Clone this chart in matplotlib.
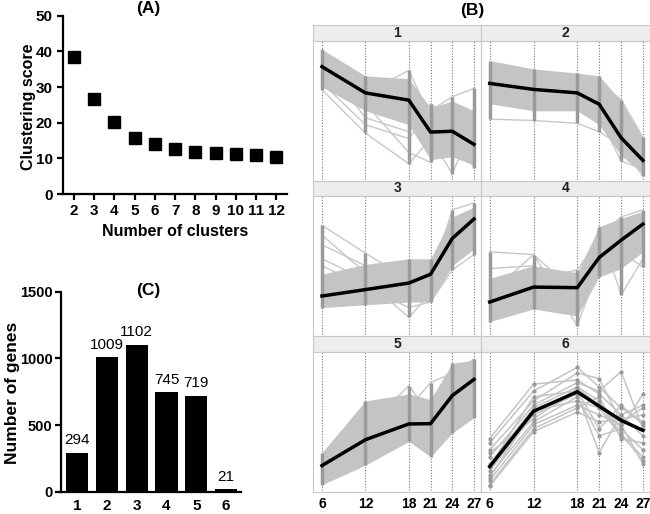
import matplotlib
matplotlib.use("Agg")
import matplotlib.pyplot as plt
import numpy as np

plt.rcParams['font.family'] = ['Liberation Sans', 'DejaVu Sans']

# (A) clustering score vs number of clusters
n_clusters = [2, 3, 4, 5, 6, 7, 8, 9, 10, 11, 12]
score = [38.5, 26.6, 20.2, 15.8, 14.1, 12.7, 11.9, 11.5, 11.1, 10.8, 10.4]

# (C) genes per cluster
cluster_ids = [1, 2, 3, 4, 5, 6]
gene_counts = [294, 1009, 1102, 745, 719, 21]

# (B) time profiles (relative expression, 0-100 within each facet)
times = [6, 12, 18, 21, 24, 27]
mean_profiles = {
    1: [81.6, 62.8, 57.6, 34.7, 35.3, 25.9],
    2: [69.6, 65.3, 62.8, 54.7, 30.7, 14.4],
    3: [28.3, 32.9, 37.6, 43.9, 69.6, 83.5],
    4: [24.0, 34.7, 34.3, 55.9, 68.3, 79.9],
    5: [18.7, 37.2, 48.5, 48.7, 68.8, 80.4],
    6: [18.0, 57.6, 71.5, 61.2, 51.1, 43.9],
}
core_upper = {
    1: [94, 75, 73, 52, 57, 50],
    2: [86, 80, 77, 75, 57, 30],
    3: [44, 51, 55, 55, 85, 92],
    4: [41, 50, 45, 78, 84, 89],
    5: [28, 65, 70, 66, 92, 94],
}
core_lower = {
    1: [67, 50, 40, 15, 17, 11],
    2: [55, 50, 50, 40, 18, 5],
    3: [20, 22, 24, 24, 50, 62],
    4: [10, 19, 14, 42, 48, 60],
    5: [5, 19, 36, 25, 42, 53],
}
# sparse outlying profiles around the dense band
outlier_lines = {
    1: [[80, 62, 79, 45, 40, 50], [70, 40, 30, 50, 60, 66], [65, 34, 12, 30, 5, 40],
        [75, 55, 20, 13, 35, 9], [85, 45, 35, 55, 45, 30]],
    2: [[75, 58, 55, 45, 14, 8], [44, 43, 41, 35, 25, 3], [80, 75, 60, 70, 58, 31]],
    3: [[79, 59, 40, 45, 80, 90], [72, 45, 30, 40, 90, 95], [55, 40, 13, 30, 60, 70],
        [50, 35, 20, 24, 47, 58], [65, 50, 35, 50, 85, 60]],
    4: [[60, 58, 30, 60, 80, 85], [48, 50, 25, 78, 29, 55], [30, 58, 7, 50, 60, 49],
        [20, 40, 47, 70, 85, 90]],
    5: [[20, 45, 76, 55, 80, 90], [15, 40, 60, 78, 85, 95], [10, 30, 50, 40, 92, 70]],
}
# cluster 6 has only 21 genes, individual lines are visible
cluster6_lines = [
    [38, 77, 80, 70, 55, 40],
    [35, 72, 89, 75, 60, 50],
    [30, 65, 85, 81, 50, 60],
    [25, 62, 78, 72, 86, 45],
    [20, 60, 75, 65, 45, 70],
    [15, 55, 70, 28, 55, 62],
    [12, 50, 68, 40, 45, 30],
    [10, 58, 65, 60, 40, 25],
    [8, 48, 62, 55, 48, 20],
    [5, 45, 60, 68, 38, 35],
    [4, 43, 57, 50, 52, 55],
    [18, 68, 72, 45, 62, 48],
    [28, 52, 74, 62, 42, 22],
]

W, H = 650, 514
fig = plt.figure(figsize=(6.5, 5.14), dpi=100)


def box(x0, y0, x1, y1):
    # pixel box (top-left origin) -> figure fraction rect
    return [x0 / W, 1 - y1 / H, (x1 - x0) / W, (y1 - y0) / H]


def style_prism(ax):
    for s in ['top', 'right']:
        ax.spines[s].set_visible(False)
    for s in ['left', 'bottom']:
        ax.spines[s].set_linewidth(1.6)
    ax.tick_params(width=1.6, length=4, labelsize=11)
    for lab in ax.get_xticklabels() + ax.get_yticklabels():
        lab.set_fontweight('bold')


# ---- (A)
axA = fig.add_axes(box(63, 15.7, 287, 194))
axA.plot(n_clusters, score, 's', color='black', markersize=8)
axA.set_xlim(1.46, 12.52)
axA.set_ylim(0, 50)
axA.set_xticks(n_clusters)
axA.set_yticks([0, 10, 20, 30, 40, 50])
style_prism(axA)
axA.set_xlabel('Number of clusters', fontsize=11.5, fontweight='bold', labelpad=4)
fig.text(28 / W, 1 - 107 / H, 'Clustering score', rotation=90, fontsize=11.5,
         fontweight='bold', ha='center', va='center')
fig.text(148 / W, 1 - 9 / H, '(A)', fontsize=12.5, fontweight='bold', ha='center', va='center')

# ---- (C)
axC = fig.add_axes(box(61, 291.7, 240.7, 491.7))
axC.bar(cluster_ids, gene_counts, width=0.75, color='black')
for x, v in zip(cluster_ids, gene_counts):
    axC.text(x, v + 40, str(v), ha='center', va='bottom', fontsize=11)
axC.set_xlim(0.46, 6.49)
axC.set_ylim(0, 1500)
axC.set_xticks(cluster_ids)
axC.set_yticks([0, 500, 1000, 1500])
style_prism(axC)
axC.tick_params(axis='y', labelsize=10.5, pad=2)
axC.tick_params(axis='x', length=0, pad=5)
fig.text(13 / W, 1 - 393 / H, 'Number of genes', rotation=90, fontsize=12.5,
         fontweight='bold', ha='center', va='center')
fig.text(148 / W, 1 - 290 / H, '(C)', fontsize=12.5, fontweight='bold', ha='center', va='center')

# ---- (B) facets
fig.text(472 / W, 1 - 10 / H, '(B)', fontsize=12.5, fontweight='bold', ha='center', va='center')
cols = [(313.3, 481), (481, 650)]
rows = [(25, 41, 180.5), (181, 196, 335.5), (336, 352, 491.7)]
frame = '#c8c8c8'
for k in range(1, 7):
    r, c = divmod(k - 1, 2)
    x0, x1 = cols[c]
    st, pt, pb = rows[r]
    sax = fig.add_axes(box(x0, st, x1, pt))
    sax.set_facecolor('#ededed')
    sax.set_xticks([])
    sax.set_yticks([])
    for s in sax.spines.values():
        s.set_color(frame)
    sax.text(0.5, 0.5, str(k), transform=sax.transAxes, ha='center', va='center',
             fontsize=10, fontweight='bold', color='#222222')

    ax = fig.add_axes(box(x0, pt, x1, pb))
    ax.set_xlim(4.8, 27.97)
    ax.set_ylim(0, 100)
    for s in ax.spines.values():
        s.set_color(frame)
    ax.vlines(times, 1, 100, colors='#777777', linestyles=(0, (1, 1.5)), lw=0.8, zorder=1)

    if k == 6:
        for ln in cluster6_lines:
            ax.plot(times, ln, color='#c4c4c4', lw=1.1, zorder=2)
            ax.plot(times, ln, 'o', color='#999999', ms=2, zorder=3)
    else:
        for ln in outlier_lines[k]:
            ax.plot(times, ln, color='#c8c8c8', lw=1, zorder=2)
        ax.fill_between(times, core_lower[k], core_upper[k], color='#c4c4c4', lw=0, zorder=2)
        lo = np.min([core_lower[k]] + outlier_lines[k], axis=0)
        hi = np.max([core_upper[k]] + outlier_lines[k], axis=0)
        ax.vlines(times, lo, hi, colors='#9a9a9a', lw=2.5, zorder=3)
    ax.plot(times, mean_profiles[k], color='black', lw=2.5, zorder=4)

    ax.set_yticks([])
    ax.set_xticks(times)
    if r == 2:
        ax.tick_params(axis='x', length=0, pad=4, labelsize=10)
        for lab in ax.get_xticklabels():
            lab.set_fontweight('bold')
    else:
        ax.set_xticklabels([])
        ax.tick_params(axis='x', length=0)

fig.savefig('out.png', dpi=100)
